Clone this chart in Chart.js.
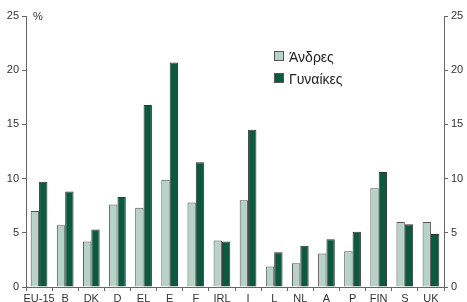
<!DOCTYPE html>
<html>
<head>
<meta charset="utf-8">
<script src="https://cdn.jsdelivr.net/npm/chart.js@4"></script>
<style>
  body { margin: 0; background: #fff; }
  #wrap { position: relative; width: 467px; height: 302px; }
  #legend { position: absolute; left: 274px; top: 46px; font-family: "Liberation Sans", Arial, sans-serif; font-size: 14px; color: #222; line-height: 22px; }
  #legend span.box { display: inline-block; width: 8px; height: 8px; border: 1px solid #555; margin-right: 5px; vertical-align: 1px; }
  #pct { position: absolute; left: 33px; top: 10px; font-family: "Liberation Sans", Arial, sans-serif; font-size: 11px; color: #333; }
</style>
</head>
<body>
<div id="wrap">
  <canvas id="chart" width="467" height="302"></canvas>
  <div id="pct">%</div>
  <div id="legend">
    <div><span class="box" style="background:#b7d3c7"></span>Άνδρες</div>
    <div><span class="box" style="background:#0b5a40"></span>Γυναίκες</div>
  </div>
</div>
<script>
// categories and values (%)
const countries = ['EU-15', 'B', 'DK', 'D', 'EL', 'E', 'F', 'IRL', 'I', 'L', 'NL', 'A', 'P', 'FIN', 'S', 'UK'];
const men = [7.0, 5.7, 4.2, 7.6, 7.3, 9.9, 7.8, 4.3, 8.0, 1.9, 2.2, 3.1, 3.3, 9.1, 6.0, 6.0];
const women = [9.7, 8.8, 5.3, 8.3, 16.8, 20.7, 11.5, 4.2, 14.5, 3.2, 3.8, 4.4, 5.1, 10.6, 5.8, 4.9];
const yTicks = [0, 5, 10, 15, 20, 25];

const tickFont = { family: 'Liberation Sans', size: 11 };

const ctx = document.getElementById('chart').getContext('2d');
const chart = new Chart(ctx, {
    type: 'bar',
    data: {
        labels: countries,
        datasets: [{
            label: 'Άνδρες',
            data: men,
            backgroundColor: '#b7d3c7',
            borderColor: '#555',
            borderWidth: 1,
            categoryPercentage: 0.64,
            barPercentage: 1.0
        }, {
            label: 'Γυναίκες',
            data: women,
            backgroundColor: '#0b5a40',
            borderColor: '#333',
            borderWidth: 1,
            categoryPercentage: 0.64,
            barPercentage: 1.0
        }]
    },
    options: {
        responsive: false,
        animation: false,
        layout: { padding: { top: 16, left: 0, right: 0, bottom: 0 } },
        plugins: {
            legend: { display: false },
            tooltip: { enabled: false }
        },
        scales: {
            x: {
                offset: true,
                grid: { offset: true, drawOnChartArea: false, color: '#666', tickLength: 4 },
                border: { color: '#666' },
                ticks: { color: '#333', font: tickFont, padding: 1, maxRotation: 0, autoSkip: false },
                afterFit: (s) => { s.height = 15; }
            },
            y: {
                position: 'left',
                min: 0,
                max: 25,
                afterBuildTicks: (s) => { s.ticks = yTicks.map(v => ({ value: v })); },
                grid: { drawOnChartArea: false, color: '#666', tickLength: 4 },
                border: { color: '#666' },
                ticks: { color: '#333', font: tickFont, padding: 3 },
                afterFit: (s) => { s.width = 26; }
            },
            y1: {
                position: 'right',
                min: 0,
                max: 25,
                afterBuildTicks: (s) => { s.ticks = yTicks.map(v => ({ value: v })); },
                grid: { drawOnChartArea: false, color: '#666', tickLength: 4 },
                border: { color: '#666' },
                ticks: { color: '#333', font: tickFont, padding: 3 },
                afterFit: (s) => { s.width = 23; }
            }
        }
    }
});
</script>
</body>
</html>
